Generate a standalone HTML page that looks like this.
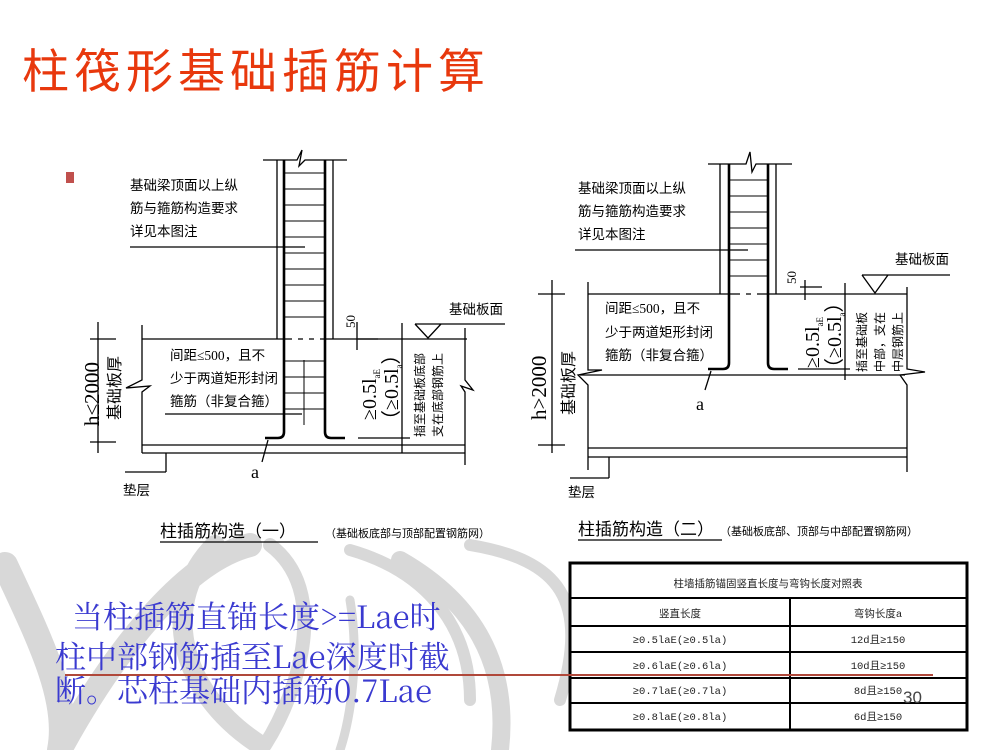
<!DOCTYPE html>
<html><head><meta charset="utf-8"><style>
html,body{margin:0;padding:0;background:#fff;}
svg{display:block;}
.cj{font-family:"Liberation Serif","Noto Sans CJK SC",sans-serif;}
</style></head><body>
<svg width="1000" height="750" viewBox="0 0 1000 750" xmlns="http://www.w3.org/2000/svg">
<!-- watermark -->
<g fill="none" stroke="#d8d8d8" stroke-linecap="round">
<path d="M5 565 C40 640 70 700 60 750" stroke-width="26"/>
<path d="M60 750 C120 640 190 560 250 545" stroke-width="24"/>
<path d="M215 545 C160 600 175 690 260 745" stroke-width="20"/>
<path d="M270 545 C330 590 300 690 265 745" stroke-width="14"/>
<path d="M350 550 C420 570 470 620 470 700" stroke-width="12"/>
<path d="M400 560 C470 600 510 660 500 750" stroke-width="18"/>
<path d="M470 545 C560 560 590 600 560 700" stroke-width="12"/>
<path d="M350 600 C360 660 350 720 340 750" stroke-width="9"/>
</g>
<!-- title -->
<text x="22" y="88" font-size="47" fill="#e8380d" letter-spacing="5" font-family="'Noto Sans CJK SC',sans-serif">柱筏形基础插筋计算</text>
<rect x="66" y="172" width="8" height="11" fill="#c0504d"/>

<!-- ============ Diagram 1 ============ -->
<g stroke="#000" fill="none" stroke-width="1.3">
<path d="M263 160 H297 L302 150 L299 166 L305 160 H347"/>
<line x1="277" y1="160" x2="277" y2="339"/>
<line x1="333" y1="160" x2="333" y2="339"/>
<path d="M284 160 V432 Q284 438 278 438 H265" stroke-width="2.6"/>
<path d="M325 160 V432 Q325 438 331 438 H345" stroke-width="2.6"/>
<g stroke-width="1">
<line x1="284" y1="173" x2="325" y2="173"/><line x1="284" y1="189" x2="325" y2="189"/>
<line x1="284" y1="205" x2="325" y2="205"/><line x1="284" y1="221" x2="325" y2="221"/>
<line x1="284" y1="237" x2="325" y2="237"/><line x1="284" y1="253" x2="325" y2="253"/>
<line x1="284" y1="269" x2="325" y2="269"/><line x1="284" y1="285" x2="325" y2="285"/>
<line x1="284" y1="301" x2="325" y2="301"/><line x1="284" y1="317" x2="325" y2="317"/>
<line x1="284" y1="361" x2="325" y2="361"/><line x1="284" y1="377" x2="325" y2="377"/>
<line x1="284" y1="393" x2="325" y2="393"/><line x1="284" y1="409" x2="325" y2="409"/>
<line x1="304" y1="360" x2="304" y2="425"/>
</g>
<line x1="130" y1="247" x2="305" y2="247"/>
<path d="M142 339 H287"/><path d="M323 339 H467"/>
<line x1="287" y1="339" x2="323" y2="339" stroke-dasharray="5,6"/>
<path d="M142 325 V380 L126 388 L150 386 L142 392 V453"/>
<line x1="142" y1="445" x2="465" y2="445"/>
<line x1="142" y1="453" x2="465" y2="453"/>
<path d="M465 328 V380 L473 390 L461 386 L465 392 V465"/>
<line x1="98" y1="322" x2="98" y2="453"/>
<line x1="90" y1="339" x2="116" y2="339"/><line x1="90" y1="442" x2="116" y2="442"/>
<line x1="402" y1="323" x2="402" y2="453"/>
<line x1="358" y1="339" x2="378" y2="339"/>
<line x1="357" y1="322" x2="357" y2="350"/>
<line x1="358" y1="438" x2="410" y2="438"/>
<line x1="165" y1="414" x2="302" y2="414"/>
<line x1="166" y1="453" x2="166" y2="472"/><line x1="125" y1="472" x2="166" y2="472"/>
<line x1="268" y1="440" x2="262" y2="462"/>
<path d="M415 324 H505 M415 324 L428 338 L441 324"/>
</g>
<g class="cj" fill="#000" font-size="13.5">
<text x="130" y="190">基础梁顶面以上纵</text>
<text x="130" y="213">筋与箍筋构造要求</text>
<text x="130" y="236">详见本图注</text>
<text x="170" y="360">间距≤500，且不</text>
<text x="170" y="383">少于两道矩形封闭</text>
<text x="170" y="406">箍筋（非复合箍）</text>
<text x="449" y="314">基础板面</text>
<text x="123" y="495">垫层</text>
<text x="251" y="478" font-size="18">a</text>
<text x="160" y="537" font-size="17">柱插筋构造（一）</text>
<text x="325" y="537" font-size="11">（基础板底部与顶部配置钢筋网）</text>
</g>
<line x1="160" y1="542" x2="318" y2="542" stroke="#000" stroke-width="1.3"/>
<g class="cj" fill="#000">
<text transform="translate(99,426) rotate(-90)" font-size="21">h≤2000</text>
<text transform="translate(120,420) rotate(-90)" font-size="16">基础板厚</text>
<text transform="translate(355,328) rotate(-90)" font-size="13">50</text>
<text transform="translate(376,420) rotate(-90)" font-size="20">≥0.5l<tspan font-size="9" dy="4">aE</tspan></text>
<text transform="translate(398,430) rotate(-90)" font-size="20">（≥0.5l<tspan font-size="9" dy="4">a</tspan><tspan dy="-4">）</tspan></text>
<text transform="translate(424,437) rotate(-90)" font-size="12">插至基础板底部</text>
<text transform="translate(442,437) rotate(-90)" font-size="12">支在底部钢筋上</text>
</g>

<!-- ============ Diagram 2 ============ -->
<g stroke="#000" fill="none" stroke-width="1.3">
<path d="M708 164 H746 L750 152 L752 172 L756 164 H792"/>
<line x1="720" y1="164" x2="720" y2="294"/>
<line x1="776" y1="164" x2="776" y2="294"/>
<path d="M729 164 V363 Q729 369 723 369 H708" stroke-width="2.6"/>
<path d="M768 164 V363 Q768 369 774 369 H788" stroke-width="2.6"/>
<g stroke-width="1">
<line x1="729" y1="180" x2="768" y2="180"/><line x1="729" y1="196" x2="768" y2="196"/>
<line x1="729" y1="212" x2="768" y2="212"/><line x1="729" y1="228" x2="768" y2="228"/>
<line x1="729" y1="244" x2="768" y2="244"/><line x1="729" y1="260" x2="768" y2="260"/>
<line x1="729" y1="276" x2="768" y2="276"/>
</g>
<line x1="575" y1="250" x2="748" y2="250"/>
<path d="M588 294 H735"/><path d="M762 294 H907"/>
<line x1="735" y1="294" x2="762" y2="294" stroke-dasharray="5,6"/>
<path d="M588 282 V370 L602 370 L578 375 L588 385 V470"/>
<path d="M907 287 V369 L925 372 L900 375 L907 385 V472"/>
<line x1="580" y1="375" x2="905" y2="375"/>
<line x1="588" y1="448" x2="907" y2="448"/>
<line x1="588" y1="457" x2="907" y2="457"/>
<line x1="552" y1="280" x2="552" y2="453"/>
<line x1="538" y1="294" x2="565" y2="294"/><line x1="538" y1="445" x2="565" y2="445"/>
<line x1="845" y1="283" x2="845" y2="380"/>
<line x1="800" y1="287" x2="822" y2="287"/>
<line x1="805" y1="280" x2="805" y2="300"/>
<line x1="798" y1="369" x2="850" y2="369"/>
<line x1="609" y1="457" x2="609" y2="478"/><line x1="570" y1="478" x2="609" y2="478"/>
<line x1="711" y1="371" x2="705" y2="390"/>
<path d="M862 275 H950 M862 275 L875 293 L888 275"/>
</g>
<g class="cj" fill="#000" font-size="13.5">
<text x="578" y="193">基础梁顶面以上纵</text>
<text x="578" y="216">筋与箍筋构造要求</text>
<text x="578" y="239">详见本图注</text>
<text x="605" y="313">间距≤500，且不</text>
<text x="605" y="337">少于两道矩形封闭</text>
<text x="605" y="360">箍筋（非复合箍）</text>
<text x="895" y="264">基础板面</text>
<text x="568" y="497">垫层</text>
<text x="696" y="410" font-size="18">a</text>
<text x="578" y="535" font-size="17">柱插筋构造（二）</text>
<text x="720" y="535" font-size="11">（基础板底部、顶部与中部配置钢筋网）</text>
</g>
<line x1="578" y1="540" x2="722" y2="540" stroke="#000" stroke-width="1.3"/>
<g class="cj" fill="#000">
<text transform="translate(546,420) rotate(-90)" font-size="21">h&gt;2000</text>
<text transform="translate(574,415) rotate(-90)" font-size="16">基础板厚</text>
<text transform="translate(796,284) rotate(-90)" font-size="13">50</text>
<text transform="translate(819,368) rotate(-90)" font-size="20">≥0.5l<tspan font-size="9" dy="4">aE</tspan></text>
<text transform="translate(841,378) rotate(-90)" font-size="20">（≥0.5l<tspan font-size="9" dy="4">a</tspan><tspan dy="-4">）</tspan></text>
<text transform="translate(866,372) rotate(-90)" font-size="12">插至基础板</text>
<text transform="translate(884,372) rotate(-90)" font-size="12">中部，支在</text>
<text transform="translate(902,372) rotate(-90)" font-size="12">中层钢筋上</text>
</g>

<!-- blue text -->
<g fill="#3a3ad0" font-size="31" font-family="'Noto Serif CJK SC',serif">
<text x="72" y="628">当柱插筋直锚长度&gt;=Lae时</text>
<text x="55" y="668">柱中部钢筋插至Lae深度时截</text>
<text x="55" y="702">断。芯柱基础内插筋0.7Lae</text>
</g>

<!-- table -->
<rect x="570" y="563" width="397" height="167" stroke="#000" fill="#fff" stroke-width="3"/>
<g stroke="#000" stroke-width="2">
<line x1="570" y1="598" x2="967" y2="598"/>
<line x1="570" y1="626" x2="967" y2="626"/>
<line x1="570" y1="652" x2="967" y2="652"/>
<line x1="570" y1="678" x2="967" y2="678"/>
<line x1="570" y1="703" x2="967" y2="703"/>
<line x1="790" y1="598" x2="790" y2="730"/>
</g>
<g fill="#222" font-size="10.5" text-anchor="middle" font-family="'Liberation Mono','Noto Sans CJK SC',monospace">
<text x="768" y="587">柱墙插筋锚固竖直长度与弯钩长度对照表</text>
<text x="680" y="617">竖直长度</text>
<text x="878" y="617">弯钩长度a</text>
<text x="680" y="643">≥0.5laE(≥0.5la)</text>
<text x="878" y="643">12d且≥150</text>
<text x="680" y="669">≥0.6laE(≥0.6la)</text>
<text x="878" y="669">10d且≥150</text>
<text x="680" y="694">≥0.7laE(≥0.7la)</text>
<text x="878" y="694">8d且≥150</text>
<text x="680" y="720">≥0.8laE(≥0.8la)</text>
<text x="878" y="720">6d且≥150</text>
</g>
<line x1="65" y1="675" x2="933" y2="675" stroke="#b0483a" stroke-width="2"/>
<text x="903" y="703" font-size="17" fill="#444" font-family="'Liberation Sans',sans-serif">30</text>
</svg>
</body></html>
